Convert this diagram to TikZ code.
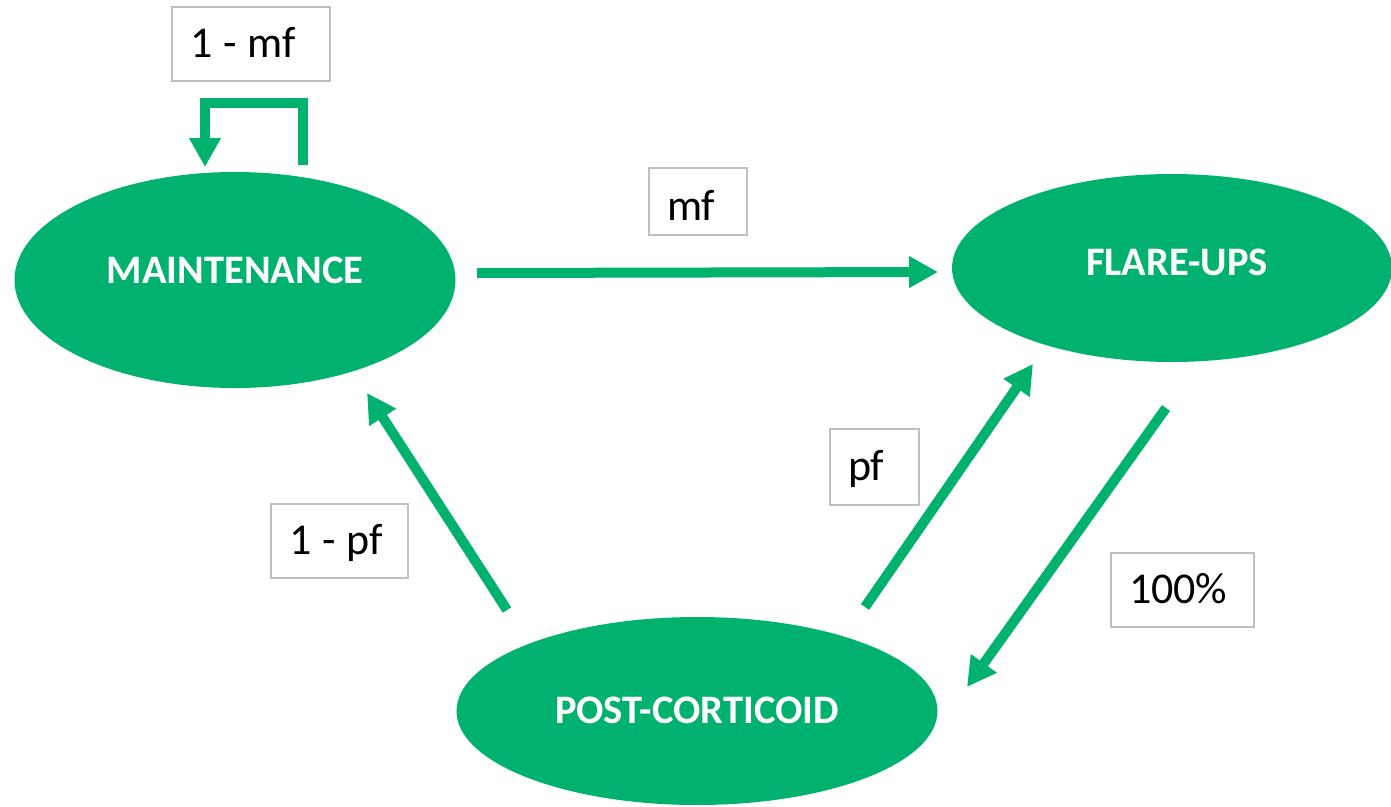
\documentclass[tikz,border=0pt]{standalone}
\usepackage{fontspec}
\setmainfont{Carlito}
\usetikzlibrary{shapes.geometric,arrows.meta}
\definecolor{stategreen}{RGB}{0,178,110}
\definecolor{boxgray}{RGB}{192,192,192}
\newcommand\tightspaces{\spaceskip=0.25em\relax}
\tikzset{
  state/.style={ellipse, fill=stategreen, draw=none, inner sep=0pt},
  statetext/.style={text=white, font=\fontsize{40.5}{44}\selectfont\bfseries, text height=26pt, text depth=0pt, inner sep=0pt},
  prob/.style={draw=boxgray, line width=2pt, fill=white, inner xsep=18pt, inner ysep=0pt, align=left,
    font=\fontsize{44}{48}\selectfont, text height=26pt, text depth=0pt},
  arr/.style={draw=stategreen, line width=10pt, -{Triangle[length=29pt,width=30pt]}},
}
\begin{document}
\begin{tikzpicture}[x=1pt,y=-1pt]
\useasboundingbox (0,0) rectangle (1391,806);
% states
\node[state, minimum width=441pt, minimum height=216pt,
  label={[statetext, shift={(0,-10)}]center:MAINTENANCE}] (m) at (235,280) {};
\node[state, minimum width=440pt, minimum height=188pt,
  label={[statetext, shift={(5,-6)}]center:FLARE-UPS}] (f) at (1172,268) {};
\node[state, minimum width=481pt, minimum height=188pt,
  label={[statetext, shift={(0,-1)}]center:POST-CORTICOID}] (p) at (697,711) {};
% labels
\node[prob, minimum width=158pt, minimum height=74pt, text width=122pt] (lmm) at (251,44) {\tightspaces\mbox{1 - mf}};
\node[prob, minimum width=98pt, minimum height=67pt, text width=62pt, text height=37pt] (lmf) at (698,201.5) {\mbox{mf}};
\node[prob, minimum width=89pt, minimum height=76pt, text width=53pt] (lpf) at (874.5,467) {\mbox{pf}};
\node[prob, minimum width=137pt, minimum height=74pt, text width=101pt] (lpp) at (339.5,541) {\tightspaces\mbox{1 - pf}};
\node[prob, minimum width=143pt, minimum height=74pt, text width=107pt] (lh) at (1182.5,590) {\mbox{100\%}};
% connectors
\draw[arr, line join=miter] ([shift={(68,-115)}]m.center) -- ++(0,-62) -| ([shift={(-30,-113)}]m.center);
\draw[arr] ([shift={(242,-7)}]m.center) -- ([shift={(-234,4)}]f.center);
\draw[arr] ([shift={(-190,-101)}]p.center) -- ([shift={(132,113)}]m.center);
\draw[arr] ([shift={(168,-104)}]p.center) -- ([shift={(-139,96)}]f.center);
\draw[arr] ([shift={(-6,140)}]f.center) -- ([shift={(270,-24)}]p.center);
\end{tikzpicture}
\end{document}
